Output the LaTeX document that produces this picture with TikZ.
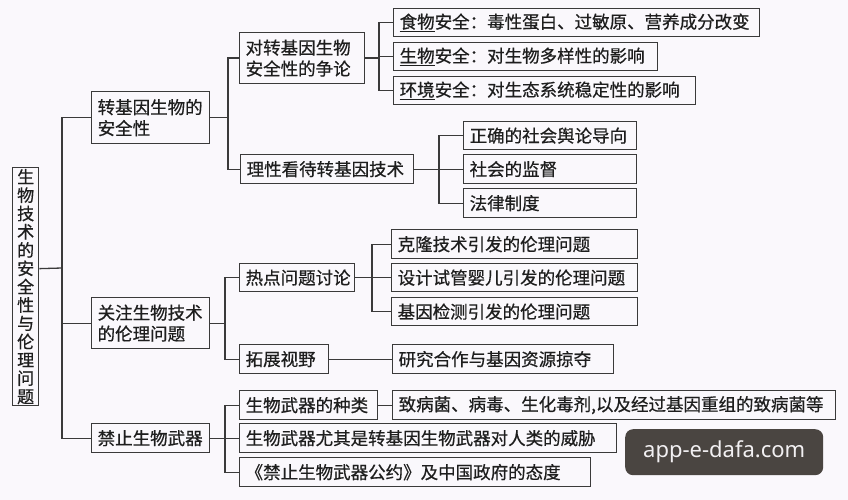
\documentclass[tikz,border=0pt]{standalone}
\usepackage{fontspec}
\setmainfont{Noto Sans CJK SC}[UprightFeatures={FakeBold=0.6}]
\newfontfamily\wmfont{Noto Sans}
\usetikzlibrary{calc}
\definecolor{bg}{HTML}{FAF8FC}
\definecolor{ln}{HTML}{3A3A3A}
\definecolor{tx}{HTML}{1E1E1E}
\definecolor{wmc}{HTML}{4A4541}
\definecolor{wmt}{HTML}{F2F0F2}
\begin{document}
\begin{tikzpicture}[x=1pt,y=-1pt,
  bx/.style={draw=ln, line width=1.3pt, text=tx, inner xsep=6pt, inner ysep=0pt,
    anchor=north west, align=left, minimum height=29pt,
    font=\fontsize{17.5pt}{21pt}\selectfont},
  rootbox/.style={draw=ln, line width=1.3pt, text=tx, inner sep=0pt, anchor=north west,
    align=center, text width=26pt, minimum height=238pt,
    font=\fontsize{17pt}{18.3pt}\selectfont},
  conn/.style={draw=ln, line width=1.3pt},
  wmbox/.style={fill=wmc, rounded corners=8pt, anchor=north west, minimum width=198pt,
    minimum height=46pt, text=wmt, font=\wmfont\fontsize{22pt}{26pt}\selectfont}]
\useasboundingbox (0,0) rectangle (848,500);
\fill[bg] (0,0) rectangle (848,500);

% root
\node[rootbox] (root) at (12,167) {生\\物\\技\\术\\的\\安\\全\\性\\与\\伦\\理\\问\\题};

% level 1
\node[bx, text width=106pt, minimum height=52pt] (A) at (91,91) {转基因生物的\\安全性};
\node[bx, text width=106pt, minimum height=51pt] (B) at (91,297) {关注生物技术\\的伦理问题};
\node[bx, text width=106pt] (C) at (91,423) {禁止生物武器};

% level 2
\node[bx, text width=113pt, minimum height=51pt] (A1) at (239,32) {对转基因生物\\安全性的争论};
\node[bx, text width=161pt] (A2) at (240,154) {理性看待转基因技术};
\node[bx, text width=103pt, minimum height=28pt] (B1) at (239,263) {热点问题讨论};
\node[bx, text width=77pt] (B2) at (239,344) {拓展视野};
\node[bx, text width=126pt] (C1) at (239,390) {生物武器的种类};
\node[bx, text width=365pt] (C2) at (239,423) {生物武器尤其是转基因生物武器对人类的威胁};
\node[bx, text width=339pt] (C3) at (239,457) {《禁止生物武器公约》及中国政府的态度};

% level 3
\node[bx, text width=354pt, minimum height=28pt] (A1a) at (393,8) {\underline{食物}安全：毒性蛋白、过敏原、营养成分改变};
\node[bx, text width=252pt, minimum height=28pt] (A1b) at (393,42) {\underline{生物}安全：对生物多样性的影响};
\node[bx, text width=290pt, minimum height=28pt] (A1c) at (393,76) {\underline{环境}安全：对生态系统稳定性的影响};
\node[bx, text width=161pt, minimum height=28pt] (A2a) at (463,121) {正确的社会舆论导向};
\node[bx, text width=161pt] (A2b) at (463,154) {社会的监督};
\node[bx, text width=161pt] (A2c) at (463,188) {法律制度};
\node[bx, text width=234pt] (B1a) at (391,229) {克隆技术引发的伦理问题};
\node[bx, text width=234pt, minimum height=28pt] (B1b) at (391,263) {设计试管婴儿引发的伦理问题};
\node[bx, text width=234pt, minimum height=28pt] (B1c) at (391,297) {基因检测引发的伦理问题};
\node[bx, text width=209pt] (B2a) at (392,344) {研究合作与基因资源掠夺};
\node[bx, text width=431pt] (C1a) at (392,390) {致病菌、病毒、生化毒剂,以及经过基因重组的致病菌等};

% watermark
\node[wmbox] (wm) at (625,429) {app-e-dafa.com};

% connectors: root to trunk
\coordinate (t0) at (62,268);
\draw[conn] ([yshift=18pt]root.east) -- (t0);
\draw[conn] (A.west) -- ++(-29,0) |- (C.west);
\draw[conn] (B.west) -- ++(-29,0);

% A
\draw[conn] (A.east) -- ++(19,0);
\draw[conn] (A1.west) -- ++(-11,0) |- (A2.west);
\draw[conn] (A1.east) -- ++(15,0);
\draw[conn] (A1a.west) -- ++(-14,0) |- (A1c.west);
\draw[conn] (A1b.west) -- ++(-14,0);
\draw[conn] (A2.east) -- ++(26,0);
\draw[conn] (A2a.west) -- ++(-24,0) |- (A2c.west);
\draw[conn] (A2b.west) -- ++(-24,0);

% B
\draw[conn] (B.east) -- ++(16,0);
\draw[conn] (B1.west) -- ++(-14,0) |- (B2.west);
\draw[conn] (B1.east) -- ++(18,0);
\draw[conn] (B1a.west) -- ++(-19,0) |- (B1c.west);
\draw[conn] (B1b.west) -- ++(-19,0);
\draw[conn] (B2.east) -- (B2a.west);

% C
\draw[conn] (C.east) -- ++(16,0);
\draw[conn] (C1.west) -- ++(-14,0) |- (C3.west);
\draw[conn] (C2.west) -- ++(-14,0);
\draw[conn] (C1.east) -- (C1a.west);
\end{tikzpicture}
\end{document}
